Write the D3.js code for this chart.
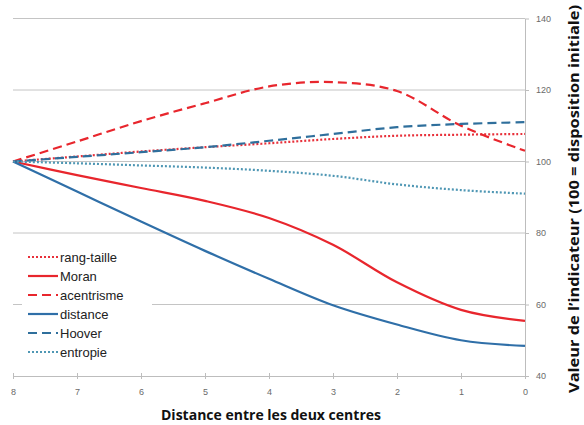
<!DOCTYPE html>
<html>
<head>
<meta charset="utf-8">
<script src="https://cdn.jsdelivr.net/npm/d3@7"></script>
<style>
  body { margin: 0; background: #fff; }
  svg { display: block; }
</style>
</head>
<body>
<script>
// distance between the two centres, read from 8 down to 0
const distances = [8, 7, 6, 5, 4, 3, 2, 1, 0];

const rangTaille = [100, 101.4, 102.8, 104.0, 105.1, 106.3, 107.2, 107.5, 107.7];
const moran      = [100, 96.2, 92.6, 89.0, 84.2, 76.7, 66.2, 58.5, 55.4];
const acentrisme = [100, 105.6, 111.3, 116.3, 121.0, 122.2, 119.7, 110.0, 103.0];
const distance   = [100, 91.6, 83.2, 75.0, 67.2, 59.8, 54.4, 50.0, 48.4];
const hoover     = [100, 101.3, 102.6, 104.0, 105.8, 107.7, 109.6, 110.5, 111.0];
const entropie   = [100, 99.5, 98.9, 98.3, 97.4, 96.0, 93.6, 92.0, 91.0];

const yTicks = [40, 60, 80, 100, 120, 140];

const series = [
  { name: "rang-taille", values: rangTaille, color: "#e8303a", dash: "2,2" },
  { name: "Moran", values: moran, color: "#e8262d", dash: null },
  { name: "acentrisme", values: acentrisme, color: "#e8262d", dash: "9,5" },
  { name: "distance", values: distance, color: "#2f6fa8", dash: null },
  { name: "Hoover", values: hoover, color: "#2f6f9c", dash: "9,5" },
  { name: "entropie", values: entropie, color: "#4f97b4", dash: "2,2" }
];

const width = 584;
const height = 425;

const svg = d3.select("body")
  .append("svg")
  .attr("width", width)
  .attr("height", height);

const x = d3.scaleLinear().domain([8, 0]).range([13, 525]);
const y = d3.scaleLinear().domain([40, 140]).range([376, 18.5]);

// gridlines
svg.append("g")
  .selectAll("line")
  .data(yTicks.filter((d) => d > 40))
  .join("line")
  .attr("x1", x(8))
  .attr("x2", x(0))
  .attr("y1", (d) => y(d))
  .attr("y2", (d) => y(d))
  .attr("stroke", "#c4c4c4")
  .attr("stroke-width", 1);

// x axis
const xAxis = svg.append("g")
  .attr("transform", `translate(0,${y(40)})`)
  .call(d3.axisBottom(x).tickValues(distances).tickSizeInner(3).tickSizeOuter(0).tickPadding(10));
xAxis.select(".domain").attr("stroke", "#bdbdbd");
xAxis.selectAll(".tick line").attr("stroke", "#bdbdbd").attr("y1", -3);
xAxis.selectAll(".tick text")
  .attr("fill", "#6a6a6a")
  .attr("font-family", "Liberation Sans, Arial, sans-serif")
  .attr("font-size", 9);

// right y axis
const yAxis = svg.append("g")
  .attr("transform", `translate(${x(0)},0)`)
  .call(d3.axisRight(y).tickValues(yTicks).tickSizeInner(4).tickSizeOuter(0).tickPadding(7));
yAxis.select(".domain").attr("stroke", "#bdbdbd");
yAxis.selectAll(".tick line").attr("stroke", "#bdbdbd");
yAxis.selectAll(".tick text")
  .attr("fill", "#6a6a6a")
  .attr("font-family", "Liberation Sans, Arial, sans-serif")
  .attr("font-size", 9);

// legend background hides part of the grid
svg.append("rect")
  .attr("x", 22)
  .attr("y", 246)
  .attr("width", 130)
  .attr("height", 116)
  .attr("fill", "#fff");

const line = d3.line()
  .x((d, i) => x(distances[i]))
  .y((d) => y(d))
  .curve(d3.curveCatmullRom.alpha(0.5));

svg.append("g")
  .attr("fill", "none")
  .selectAll("path")
  .data(series)
  .join("path")
  .attr("d", (d) => line(d.values))
  .attr("stroke", (d) => d.color)
  .attr("stroke-width", 2.2)
  .attr("stroke-dasharray", (d) => d.dash);

// legend
const legend = svg.append("g")
  .selectAll("g")
  .data(series)
  .join("g")
  .attr("transform", (d, i) => `translate(28,${257 + i * 19})`);

legend.append("line")
  .attr("x1", 0)
  .attr("x2", 30)
  .attr("stroke", (d) => d.color)
  .attr("stroke-width", 2.2)
  .attr("stroke-dasharray", (d) => d.dash);

legend.append("text")
  .attr("x", 32)
  .attr("dy", "0.35em")
  .attr("font-family", "Liberation Sans, Arial, sans-serif")
  .attr("font-size", 13)
  .attr("fill", "#222")
  .text((d) => d.name);

// axis titles
svg.append("text")
  .attr("x", (x(8) + x(0)) / 2 + 2)
  .attr("y", 420)
  .attr("text-anchor", "middle")
  .attr("font-family", "Open Sans, sans-serif")
  .attr("font-weight", "bold")
  .attr("font-size", 13.5)
  .attr("textLength", 220)
  .attr("lengthAdjust", "spacingAndGlyphs")
  .attr("fill", "#111")
  .text("Distance entre les deux centres");

svg.append("text")
  .attr("transform", "translate(579,199) rotate(-90)")
  .attr("text-anchor", "middle")
  .attr("font-family", "Open Sans, sans-serif")
  .attr("font-weight", "bold")
  .attr("font-size", 15)
  .attr("textLength", 388)
  .attr("lengthAdjust", "spacingAndGlyphs")
  .attr("fill", "#111")
  .text("Valeur de l’indicateur (100 = disposition initiale)");
</script>
</body>
</html>
